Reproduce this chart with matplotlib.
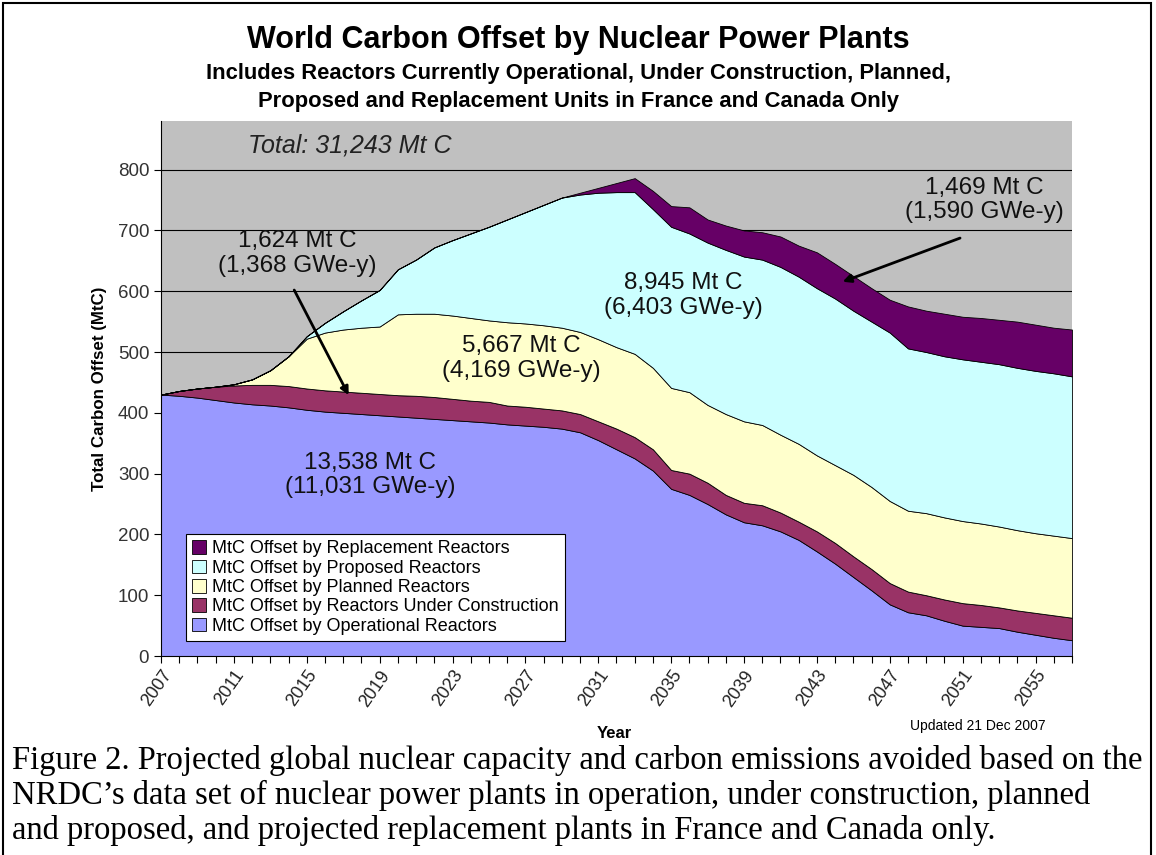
import numpy as np
import matplotlib.pyplot as plt
from matplotlib.patches import Rectangle

plt.rcParams['font.family'] = ['Liberation Sans', 'DejaVu Sans']

years = list(range(2007, 2058))

# MtC offset per year (stacked from bottom)
operational = [430, 428, 425, 421, 417, 414, 412, 409, 405, 402,
               400, 398, 396, 394, 392, 390, 388, 386, 384, 381,
               379, 377, 374, 368, 355, 340, 325, 305, 275, 265,
               250, 233, 220, 215, 205, 191, 172, 152, 130, 108,
               85, 72, 67, 58, 50, 48, 46, 40, 35, 30, 26]
under_construction = [0, 8, 15, 22, 28, 32, 34, 35, 35, 35,
                      35, 35, 35, 35, 36, 36, 35, 34, 34, 31,
                      31, 30, 30, 30, 31, 34, 35, 35, 31, 35,
                      35, 32, 32, 33, 31, 30, 33, 34, 34, 35,
                      35, 34, 33, 35, 37, 36, 34, 35, 36, 37, 37]
planned = [0, 0, 0, 0, 2, 9, 24, 49, 82, 95,
           102, 107, 111, 133, 135, 137, 137, 136, 134, 137,
           137, 137, 136, 135, 135, 134, 137, 134, 135, 134,
           128, 133, 134, 132, 128, 128, 125, 128, 134, 135,
           135, 133, 135, 135, 135, 134, 133, 132, 131, 131, 131]
proposed = [0, 0, 0, 0, 0, 0, 0, 0, 4, 16,
            30, 45, 60, 74, 89, 109, 124, 139, 154, 169,
            183, 198, 214, 226, 241, 255, 266, 261, 265, 261,
            267, 270, 271, 272, 276, 275, 275, 274, 270, 272,
            277, 267, 265, 265, 266, 266, 267, 267, 267, 267, 266]
replacement = [0, 0, 0, 0, 0, 0, 0, 0, 0, 0,
               0, 0, 0, 0, 0, 0, 0, 0, 0, 0,
               0, 0, 0, 3, 8, 15, 23, 30, 34, 43,
               38, 40, 43, 45, 50, 51, 59, 57, 57, 55,
               54, 69, 68, 70, 70, 72, 73, 76, 76, 75, 77]

series_names = ['MtC Offset by Operational Reactors',
                'MtC Offset by Reactors Under Construction',
                'MtC Offset by Planned Reactors',
                'MtC Offset by Proposed Reactors',
                'MtC Offset by Replacement Reactors']
colors = ['#9999FF', '#993366', '#FFFFCC', '#CCFFFF', '#660066']

fig = plt.figure(figsize=(11.56, 8.55), dpi=100)
ax = fig.add_axes([0.1393, 0.2327, 0.7880, 0.6258])
ax.set_facecolor('#C0C0C0')

ax.stackplot(years, operational, under_construction, planned, proposed, replacement,
             colors=colors, labels=series_names, edgecolor='black', linewidth=0.6)

ax.set_xlim(2007, 2057)
ax.set_ylim(0, 880)
ax.set_yticks(range(0, 900, 100))
for y in range(100, 900, 100):
    ax.axhline(y, color='black', linewidth=0.8, zorder=0.5)
ax.set_xticks(years)
ax.set_xticklabels([str(y) if (y - 2007) % 4 == 0 else '' for y in years],
                   rotation=55, ha='right', rotation_mode='anchor', fontsize=13, color='#222222')
ax.tick_params(axis='x', length=5, direction='out', pad=3)
ax.tick_params(axis='y', length=5, direction='out', labelsize=13.5, labelcolor='#333333')
for s in ['top', 'right']:
    ax.spines[s].set_visible(False)

ax.set_ylabel('Total Carbon Offset (MtC)', fontsize=12.2, fontweight='bold', labelpad=8)
fig.text(614 / 1156, 1 - 733 / 855, 'Year', fontsize=12, fontweight='bold', ha='center', va='center')
fig.text(978 / 1156, 1 - 726 / 855, 'Updated 21 Dec 2007', fontsize=10, ha='center', va='center')

handles, labels = ax.get_legend_handles_labels()
leg = ax.legend(handles[::-1], labels[::-1], loc='lower left', bbox_to_anchor=(0.027, 0.028),
                fontsize=13, frameon=True, fancybox=False, edgecolor='black', framealpha=1,
                handlelength=0.8, handleheight=0.8, handletextpad=0.3, labelspacing=0.12,
                borderpad=0.35, borderaxespad=0)
leg.get_frame().set_linewidth(0.8)

ax.text(2011.77, 840, 'Total: 31,243 Mt C', fontsize=18, style='italic', va='center', color='#222222')

notes = [
    (2014.46, 662, '1,624 Mt C\n(1,368 GWe-y)'),
    (2026.8, 489, '5,667 Mt C\n(4,169 GWe-y)'),
    (2035.65, 593, '8,945 Mt C\n(6,403 GWe-y)'),
    (2052.17, 750, '1,469 Mt C\n(1,590 GWe-y)'),
    (2018.47, 298, '13,538 Mt C\n(11,031 GWe-y)'),
]
for x, y, t in notes:
    ax.text(x, y, t, fontsize=17.5, ha='center', va='center', linespacing=1.15, color='#111111')

arrows = [((2014.24, 606), (2017.37, 425)), ((2051.0, 689), (2044.27, 614))]
for start, end in arrows:
    ax.annotate('', xy=end, xytext=start,
                arrowprops=dict(arrowstyle='-|>', color='black', lw=2, mutation_scale=12))

fig.text(0.5, 1 - 40 / 855, 'World Carbon Offset by Nuclear Power Plants',
         fontsize=22, fontweight='bold', ha='center', va='center')
fig.text(0.5, 1 - 74 / 855, 'Includes Reactors Currently Operational, Under Construction, Planned,',
         fontsize=15.8, fontweight='bold', ha='center', va='center')
fig.text(0.5, 1 - 101 / 855, 'Proposed and Replacement Units in France and Canada Only',
         fontsize=15.8, fontweight='bold', ha='center', va='center')

caption = ['Figure 2. Projected global nuclear capacity and carbon emissions avoided based on the',
           'NRDC\u2019s data set of nuclear power plants in operation, under construction, planned',
           'and proposed, and projected replacement plants in France and Canada only.']
for i, line in enumerate(caption):
    fig.text(12 / 1156, 1 - (760 + 35 * i) / 855, line, fontsize=23.5,
             family=['Liberation Serif', 'DejaVu Serif'], ha='left', va='center')

fig.add_artist(Rectangle((3 / 1156, -0.1), 1148 / 1156, 1.1 - 3 / 855, transform=fig.transFigure,
                         fill=False, edgecolor='black', linewidth=1.5))

fig.savefig('out.png', dpi=100)
